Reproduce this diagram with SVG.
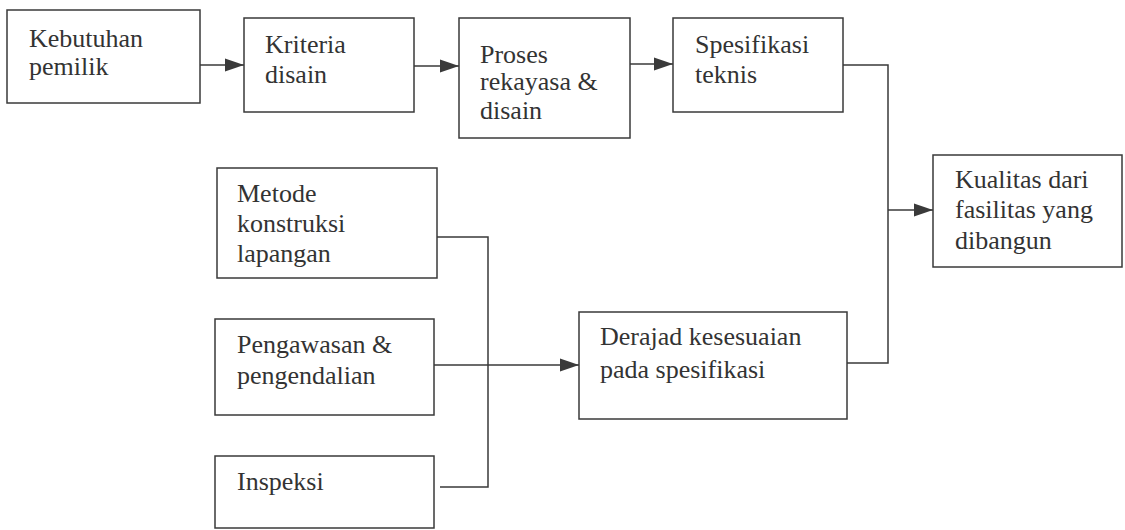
<svg xmlns="http://www.w3.org/2000/svg" width="1125" height="530" viewBox="0 0 1125 530">
<defs>
<marker id="arr" markerUnits="userSpaceOnUse" markerWidth="20" markerHeight="16" refX="19" refY="8" orient="auto">
<path d="M0,1.5 L19,8 L0,14.5 Z" fill="#3a3a3a"/>
</marker>
<style>
.box{fill:#ffffff;stroke:#3a3a3a;stroke-width:1.5}
.lbl{font-family:"Liberation Serif","Times New Roman",serif;font-size:26px;fill:#333333}
.con{fill:none;stroke:#3a3a3a;stroke-width:1.5}
</style>
</defs>
<rect width="1125" height="530" fill="#ffffff"/>
<g id="n-kebutuhan">
<rect class="box" x="7" y="10" width="193" height="93"/>
<text class="lbl" x="29" y="47">Kebutuhan</text>
<text class="lbl" x="29" y="75">pemilik</text>
</g>
<g id="n-kriteria">
<rect class="box" x="244" y="18" width="170" height="94"/>
<text class="lbl" x="265" y="53">Kriteria</text>
<text class="lbl" x="265" y="83">disain</text>
</g>
<g id="n-proses">
<rect class="box" x="459" y="18" width="171" height="120"/>
<text class="lbl" x="480" y="63">Proses</text>
<text class="lbl" x="480" y="90">rekayasa &amp;</text>
<text class="lbl" x="480" y="119">disain</text>
</g>
<g id="n-spesifikasi">
<rect class="box" x="673" y="18" width="170" height="94"/>
<text class="lbl" x="695" y="53">Spesifikasi</text>
<text class="lbl" x="695" y="83">teknis</text>
</g>
<g id="n-kualitas">
<rect class="box" x="933" y="155" width="189" height="112"/>
<text class="lbl" x="955" y="188">Kualitas dari</text>
<text class="lbl" x="955" y="218">fasilitas yang</text>
<text class="lbl" x="955" y="249">dibangun</text>
</g>
<g id="n-metode">
<rect class="box" x="217" y="168" width="220" height="110"/>
<text class="lbl" x="237" y="202">Metode</text>
<text class="lbl" x="237" y="232">konstruksi</text>
<text class="lbl" x="237" y="262">lapangan</text>
</g>
<g id="n-pengawasan">
<rect class="box" x="215" y="319" width="219" height="96"/>
<text class="lbl" x="237" y="353">Pengawasan &amp;</text>
<text class="lbl" x="237" y="384">pengendalian</text>
</g>
<g id="n-inspeksi">
<rect class="box" x="215" y="456" width="219" height="72"/>
<text class="lbl" x="237" y="490">Inspeksi</text>
</g>
<g id="n-derajad">
<rect class="box" x="579" y="312" width="268" height="107"/>
<text class="lbl" x="600" y="345">Derajad kesesuaian</text>
<text class="lbl" x="600" y="378">pada spesifikasi</text>
</g>
<g id="connectors">
<line class="con" x1="200" y1="65" x2="244" y2="65" marker-end="url(#arr)"/>
<line class="con" x1="414" y1="66" x2="459" y2="66" marker-end="url(#arr)"/>
<line class="con" x1="630" y1="64" x2="673" y2="64" marker-end="url(#arr)"/>
<polyline class="con" points="843,65 888,65 888,363 847,363"/>
<line class="con" x1="888" y1="210" x2="933" y2="210" marker-end="url(#arr)"/>
<polyline class="con" points="437,237 488,237 488,487 440,487"/>
<line class="con" x1="434" y1="365" x2="579" y2="365" marker-end="url(#arr)"/>
</g>
</svg>
